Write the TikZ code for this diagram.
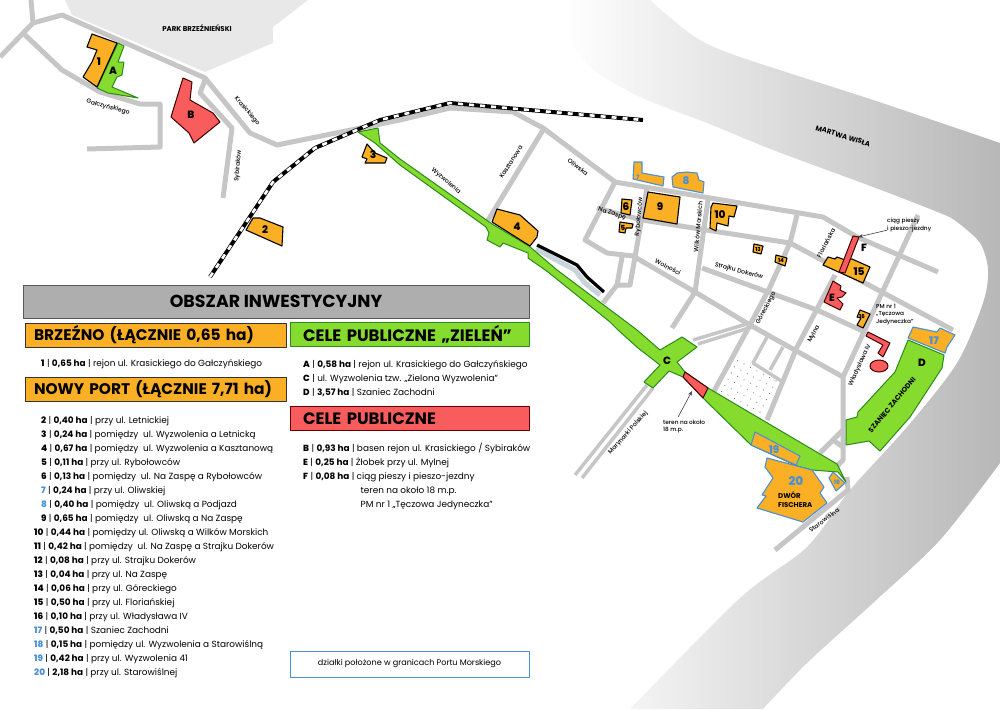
\documentclass[tikz,border=0pt]{standalone}
\usepackage{fontspec}
\setmainfont{Poppins}
\newfontfamily\heavyfont{Poppins ExtraBold}
\newfontfamily\mediumfont{Poppins Medium}
\usepackage{xcolor}
\usetikzlibrary{positioning,arrows.meta}

\definecolor{lotorange}{HTML}{FBAF24}
\definecolor{zonegreen}{HTML}{85DC2F}
\definecolor{zonedark}{HTML}{2B8A1B}
\definecolor{zonered}{HTML}{F95C5C}
\definecolor{portblue}{HTML}{4A90D6}
\definecolor{roadgray}{HTML}{C6C6C6}
\definecolor{headgray}{HTML}{AEAEAE}
\definecolor{canalgray}{HTML}{C8D4DC}

\begin{document}
\begin{tikzpicture}[x=1pt, y=-1pt, line join=round]
    \tikzstyle{road} = [draw=roadgray, line width=5pt]
    \tikzstyle{thinroad} = [draw=roadgray, line width=3.5pt]
    \tikzstyle{lot} = [fill=lotorange, draw=black, line width=1.1pt]
    \tikzstyle{portlot} = [fill=lotorange, draw=portblue, line width=1.1pt]
    \tikzstyle{greenzone} = [fill=zonegreen, draw=zonedark, line width=1pt]
    \tikzstyle{redzone} = [fill=zonered, draw=black!75!red, line width=1pt]
    \tikzstyle{lotnr} = [font=\heavyfont\fontsize{10.5}{10}\selectfont, inner sep=0pt]
    \tikzstyle{smallnr} = [font=\heavyfont\fontsize{5.5}{5}\selectfont, inner sep=0pt]
    \tikzstyle{street} = [font=\mediumfont\fontsize{6.1}{6}\selectfont, inner sep=0pt]
    \tikzstyle{note} = [font=\mediumfont\fontsize{5.8}{7.4}\selectfont, inner sep=0pt, align=left]
    \tikzstyle{caps} = [font=\bfseries\fontsize{7}{9}\selectfont, inner sep=0pt, align=left]
    \tikzstyle{headbox} = [font=\bfseries\fontsize{15.4}{15}\selectfont, minimum height=24pt, inner ysep=0pt, inner xsep=9pt, line width=1pt, align=left]
    \tikzstyle{lotline} = [font=\fontsize{8.9}{10}\selectfont, inner sep=0pt, anchor=west]
    \useasboundingbox (0,0) rectangle (1000,709);

    % water and park
    \path [left color=white, right color=black!28]
        plot [smooth] coordinates {(650,0) (673,20) (700,40) (740,57) (873,100) (1000,143)}
        -- (1000,463)
        -- plot [smooth] coordinates {(1000,463) (940,540) (873,603) (807,663) (763,709)}
        -- (630,709)
        -- plot [smooth] coordinates {(630,709) (740,598) (807,547) (850,490) (907,427) (957,363) (983,303) (988,270) (980,243) (957,222) (940,213) (873,187) (773,150) (707,123) (640,97) (590,67) (567,33) (563,0)}
        -- cycle;
    \fill [black!9] (65,0) -- (308,0) -- (273,27) -- (273,43) -- (205,72) -- (72,15) -- cycle;

    % roads
    \draw [road] (31,0) -- (33,23) -- (0,57);
    \draw [road] (33,23) -- (62,15) -- (205,78) -- (250,133) -- (277,145) -- (400,120) -- (450,108) -- (513,112) -- (543,128) -- (615,182) -- (823,217) -- (857,237) -- (938,272);
    \draw [road] (23,33) -- (62,70) -- (100,92) -- (140,104) -- (160,104) -- (160,147) -- (87,149);
    \draw [road] (205,80) -- (200,93) -- (232,128) -- (223,198);
    \draw [road] (543,130) -- (487,222);
    \draw [road] (615,182) -- (585,240) -- (607,253) -- (633,256) -- (695,292) -- (750,325) -- (843,377);
    \draw [road] (597,208) -- (642,220) -- (790,243) -- (953,330);
    \draw [road] (647,188) -- (635,257) -- (630,285) -- (617,285) -- (622,257);
    \draw [road] (617,285) -- (603,303);
    \draw [road] (708,200) -- (695,292) -- (672,328);
    \draw [road] (702,268) -- (817,310) -- (865,332);
    \draw [road] (797,215) -- (790,243) -- (770,287) -- (750,325) -- (713,393);
    \draw [road] (835,275) -- (797,347) -- (767,420);
    \draw [road] (918,215) -- (843,377) -- (843,460) -- (833,470);
    \draw [road] (843,430) -- (820,453);
    \draw [road] (833,440) -- (843,447);
    \draw [road] (775,550) -- (848,490) -- (847,477);
    \draw [thinroad] (647,385) -- (575,475);
    \draw [thinroad] (653,388) -- (582,478);
    \draw [thinroad] (693,340) -- (750,323);
    \draw [thinroad] (698,344) -- (752,327);
    \draw [thinroad] (767,337) -- (753,363) -- (783,382);
    \draw [thinroad] (783,347) -- (770,370);

    % dotted square
    \begin{scope}
        \clip (737,358) -- (783,382) -- (763,420) -- (717,390) -- cycle;
        \foreach \i in {0,...,16}
            \foreach \j in {0,...,16}
                \fill [black!55] ({680+6.4*\i-3.2*\j},{330+3.4*\i+6.2*\j}) circle (0.55pt);
    \end{scope}

    % railway
    \draw [black, line width=4pt] (210,277) -- (273,182) -- (315,148) -- (380,120) -- (450,103) -- (643,120);
    \draw [white, line width=2.6pt, dash pattern=on 5pt off 6pt] (210,277) -- (273,182) -- (315,148) -- (380,120) -- (450,103) -- (643,120);

    % canal
    \draw [canalgray, line width=5pt] (536,249) -- (575,270) -- (585,283) -- (600,295);
    \draw [black, line width=3.2pt] (537,245) -- (577,265) -- (587,277) -- (604,292);

    % green zones
    \path [greenzone] (358,132) -- (378,128) -- (380,143) -- (400,159) -- (492,224) -- (529,246) -- (557,270) -- (637,330) -- (660,350) -- (682,337) -- (697,347) -- (677,362) -- (685,372) -- (708,388) -- (837,464) -- (846,482) -- (838,472) -- (812,470) -- (797,466) -- (751,445) -- (703,398) -- (683,377) -- (669,371) -- (653,388) -- (644,382) -- (660,365) -- (638,348) -- (618,330) -- (610,322) -- (548,272) -- (528,258) -- (528,253) -- (503,243) -- (500,247) -- (487,240) -- (489,233) -- (486,227) -- (400,165) -- (375,143) -- cycle;
    \path [greenzone] (908,340) -- (944,355) -- (942,368) -- (910,417) -- (880,451) -- (869,441) -- (846,445) -- (846,420) -- (857,417) -- (858,412) -- (895,372) -- cycle;
    \path [greenzone] (118,43) -- (124,46) -- (118,62) -- (124,62) -- (122,75) -- (117,77) -- (112,87) -- (138,98) -- (108,93) -- (97,88) -- cycle;

    % red zones
    \path [redzone] (685,372) -- (708,388) -- (703,398) -- (683,377) -- cycle;
    \path [redzone] (183,78) -- (192,82) -- (190,100) -- (213,113) -- (220,122) -- (194,143) -- (189,133) -- (171,117) -- cycle;
    \path [redzone] (833,281) -- (841,286) -- (840,290) -- (846,293) -- (842,297) -- (837,298) -- (843,304) -- (840,310) -- (824,302) -- cycle;
    \path [redzone] (868,332) -- (890,343) -- (883,357) -- (878,353) -- (883,345) -- (866,336) -- cycle;
    \path [redzone] (879,366) ellipse (9pt and 6pt);

    % plots
    \path [lot] (92,34) -- (117,43) -- (97,87) -- (83,77) -- (92,62) -- (97,50) -- (87,47) -- cycle;
    \path [lot] (246,230) -- (253,218) -- (260,218) -- (283,227) -- (282,246) -- cycle;
    \path [lot] (367,144) -- (375,153) -- (387,158) -- (385,163) -- (365,163) -- (367,159) -- (362,157) -- cycle;
    \path [lot] (497,209) -- (520,215) -- (538,231) -- (537,237) -- (530,246) -- (492,222) -- cycle;
    \path [lot] (620,222) -- (633,224) -- (632,228) -- (626,228) -- (625,233) -- (619,232) -- cycle;
    \path [lot] (622,199) -- (632,200) -- (630,215) -- (621,213) -- cycle;
    \path [lot] (648,192) -- (680,197) -- (677,224) -- (643,218) -- cycle;
    \path [lot] (713,203) -- (737,206) -- (734,217) -- (729,216) -- (728,226) -- (717,223) -- (716,231) -- (710,228) -- (711,207) -- cycle;
    \path [lot] (754,244) -- (763,246) -- (761,254) -- (753,252) -- cycle;
    \path [lot] (776,255) -- (787,258) -- (785,266) -- (775,262) -- cycle;
    \path [lot] (823,265) -- (828,257) -- (835,259) -- (837,257) -- (845,260) -- (852,259) -- (870,267) -- (863,283) -- cycle;
    \path [redzone] (853,236) -- (859,237) -- (845,273) -- (839,272) -- cycle;
    \path [lot] (860,310) -- (870,314) -- (866,322) -- (863,328) -- (857,325) -- (861,318) -- (857,317) -- cycle;
    \path [portlot] (634,162) -- (642,162) -- (642,173) -- (664,177) -- (663,186) -- (633,179) -- cycle;
    \path [portlot] (672,177) -- (677,173) -- (687,172) -- (697,173) -- (699,180) -- (704,182) -- (703,193) -- (673,187) -- cycle;
    \path [portlot] (913,327) -- (937,332) -- (940,328) -- (955,335) -- (947,347) -- (945,353) -- (908,338) -- cycle;
    \path [portlot] (833,472) -- (845,483) -- (836,491) -- (829,478) -- cycle;
    \path [portlot] (755,432) -- (800,456) -- (796,465) -- (751,445) -- cycle;
    \path [portlot] (767,458) -- (797,466) -- (812,470) -- (824,487) -- (820,493) -- (827,503) -- (803,522) -- (757,508) -- (766,496) -- (762,495) -- (773,478) -- (765,467) -- cycle;

    % plot numbers
    \node [lotnr] (N1) at (99,62) {1};
    \node [lotnr] (N2) at (265,230) {2};
    \node [lotnr] (N3) at (373,155) {3};
    \node [lotnr] (N4) at (517,227) {4};
    \node [lotnr, font=\heavyfont\fontsize{7}{7}\selectfont] (N5) at (623,228) {5};
    \node [lotnr] (N6) at (626,207) {6};
    \node [lotnr] (N9) at (660,207) {9};
    \node [lotnr] (N10) at (720,215) {10};
    \node [smallnr] (N13) at (758,249) {13};
    \node [smallnr] (N14) at (781,260) {14};
    \node [lotnr] (N15) at (859,272) {15};
    \node [smallnr] (N16) at (862,316) {16};
    \node [lotnr, portblue, font=\heavyfont\fontsize{6}{6}\selectfont] (N7) at (638,177) {7};
    \node [lotnr, portblue] (N8) at (686,181) {8};
    \node [lotnr, portblue] (N17) at (934,341) {17};
    \node [lotnr, portblue, font=\heavyfont\fontsize{6}{6}\selectfont] (N18) at (837,482) {18};
    \node [lotnr, portblue] (N19) at (774,450) {19};
    \node [lotnr, portblue, font=\heavyfont\fontsize{12}{12}\selectfont] (N20) at (796,481) {20};
    \node [lotnr] (NA) at (113,71) {A};
    \node [lotnr] (NB) at (191,115) {B};
    \node [lotnr] (NC) at (667,361) {C};
    \node [lotnr] (ND) at (922,363) {D};
    \node [lotnr] (NE) at (832,298) {E};
    \node [lotnr] (NF) at (864,248) {F};

    % street names
    \node [caps] (park) at (197,28) {PARK BRZEŹNIEŃSKI};
    \node [caps, rotate=-17] (wisla) at (843,136) {MARTWA WISŁA};
    \node [caps, rotate=50] (szaniec) at (892,405) {SZANIEC ZACHODNI};
    \node [caps, anchor=west] (dwor) at (778,500) {DWÓR\\FISCHERA};
    \node [street, rotate=-15] (galcz) at (108,107) {Gałczyńskiego};
    \node [street, rotate=-50] (krasick) at (247,111) {Krasickiego};
    \node [street, rotate=85] (sybir) at (238,166) {Sybiraków};
    \node [street, rotate=-41] (wyzw) at (446,181) {Wyzwolenia};
    \node [street, rotate=57] (kasztan) at (511,162) {Kasztanowa};
    \node [street, rotate=-38] (oliw) at (578,167) {Oliwska};
    \node [street, rotate=-18] (zaspa) at (612,214) {Na Zaspę};
    \node [street, rotate=85] (rybol) at (639,217) {Rybołowców};
    \node [street, rotate=-27] (woln) at (668,267) {Wolności};
    \node [street, rotate=85] (wilk) at (698,227) {Wilków Morskich};
    \node [street, rotate=-15] (strajk) at (739,271) {Strajku Dokerów};
    \node [street, rotate=62] (gorec) at (766,308) {Góreckiego};
    \node [street, rotate=62] (flor) at (826,243) {Floriańska};
    \node [street, rotate=62] (myl) at (814,334) {Mylna};
    \node [street, rotate=65] (wlad) at (860,365) {Władysława IV};
    \node [street, rotate=48] (maryn) at (628,433) {Marynarki Polskiej};
    \node [street, rotate=37] (staro) at (824,520) {Starowiślna};

    % notes with arrows
    \node [note, anchor=west] (ciag) at (887,225) {ciąg pieszy\\i pieszo-jezdny};
    \node [note, anchor=west] (pm) at (876,314.5) {PM nr 1\\„Tęczowa\\Jedyneczka”};
    \node [note, anchor=north west] (teren) at (663,420) {teren na około\\18 m.p.};
    \coordinate (ciagEnd) at (858,237);
    \coordinate (terenEnd) at (692,391);
    \draw [-{Stealth[length=5pt]}, black!75, line width=0.6pt] (ciag) to (ciagEnd);
    \draw [-{Stealth[length=5pt]}, black!75, line width=0.6pt] (teren.north) ++(-6,-3) to (terenEnd);

    % legend
    \node [headbox, fill=headgray, draw=black!65, minimum width=506pt, minimum height=33pt, font=\bfseries\fontsize{17.4}{17}\selectfont, align=center] (title) at (276,301.5) {OBSZAR INWESTYCYJNY};
    \node [headbox, fill=lotorange, draw=black!80, text width=243pt] (brzezno) at (155.5,335) {BRZEŹNO (ŁĄCZNIE 0,65 ha)};
    \node [headbox, fill=lotorange, draw=black!80, text width=243pt] (nowyport) at (155.5,389.5) {NOWY PORT (ŁĄCZNIE 7,71 ha)};
    \node [headbox, fill=zonegreen, draw=zonedark, inner xsep=13pt, text width=213pt, font=\bfseries\fontsize{16.5}{16}\selectfont] (zielen) at (409.5,334.5) {CELE PUBLICZNE „ZIELEŃ”};
    \node [headbox, fill=zonered, draw=black!60!red, inner xsep=13pt, text width=213pt, font=\bfseries\fontsize{16.5}{16}\selectfont] (publiczne) at (409.5,418.5) {CELE PUBLICZNE};

    \foreach \nr/\x/\y/\col/\area/\txt in {
        1/41/364/black/{0,65}/{rejon ul. Krasickiego do Gałczyńskiego},
        2/41/421/black/{0,40}/{przy ul. Letnickiej},
        3/41/435/black/{0,24}/{pomiędzy~ ul. Wyzwolenia a Letnicką},
        4/41/449/black/{0,67}/{pomiędzy~ ul. Wyzwolenia a Kasztanową},
        5/41/463/black/{0,11}/{przy ul. Rybołowców},
        6/41/477/black/{0,13}/{pomiędzy~ ul. Na Zaspę a Rybołowców},
        7/41/491/portblue/{0,24}/{przy ul. Oliwskiej},
        8/41/505/portblue/{0,40}/{pomiędzy~ ul. Oliwską a Podjazd},
        9/41/519/black/{0,65}/{pomiędzy~ ul. Oliwską a Na Zaspę},
        10/34/533/black/{0,44}/{pomiędzy ul. Oliwską a Wilków Morskich},
        11/34/547/black/{0,42}/{pomiędzy~ ul. Na Zaspę a Strajku Dokerów},
        12/34/561/black/{0,08}/{przy ul. Strajku Dokerów},
        13/34/575/black/{0,04}/{przy ul. Na Zaspę},
        14/34/589/black/{0,06}/{przy ul. Góreckiego},
        15/34/603/black/{0,50}/{przy ul. Floriańskiej},
        16/34/617/black/{0,10}/{przy ul. Władysława IV},
        17/34/631/portblue/{0,50}/{Szaniec Zachodni},
        18/34/645/portblue/{0,15}/{pomiędzy ul. Wyzwolenia a Starowiślną},
        19/34/659/portblue/{0,42}/{przy ul. Wyzwolenia 41},
        20/34/673/portblue/{2,18}/{przy ul. Starowiślnej}}
        \node [lotline] (L\nr) at (\x,\y) {\textcolor{\col}{{\heavyfont\nr}} | \textbf{\area{} ha} | \txt};

    \foreach \nr/\y/\area/\txt in {
        A/365/{0,58}/{rejon ul. Krasickiego do Gałczyńskiego},
        C/379/{}/{},
        D/393/{3,57}/{Szaniec Zachodni},
        B/449/{0,93}/{basen rejon ul. Krasickiego / Sybiraków},
        E/463/{0,25}/{Żłobek przy ul. Mylnej},
        F/477/{0,08}/{ciąg pieszy i pieszo-jezdny}}
        \node [lotline] (P\nr) at (303,\y) {{\heavyfont\nr} | \ifx\area\empty ul. Wyzwolenia tzw. „Zielona Wyzwolenia”\else\textbf{\area{} ha} | \txt\fi};

    \node [lotline] (F2) at (360.5,491.5) {teren na około 18 m.p.};
    \node [lotline] (F3) at (360.5,505.5) {PM nr 1 „Tęczowa Jedyneczka”};

    \node [draw=portblue, line width=1pt, minimum width=239pt, minimum height=26pt, inner sep=0pt, font=\fontsize{8.1}{9}\selectfont] (port) at (409.5,664) {działki położone w granicach Portu Morskiego};
\end{tikzpicture}
\end{document}
